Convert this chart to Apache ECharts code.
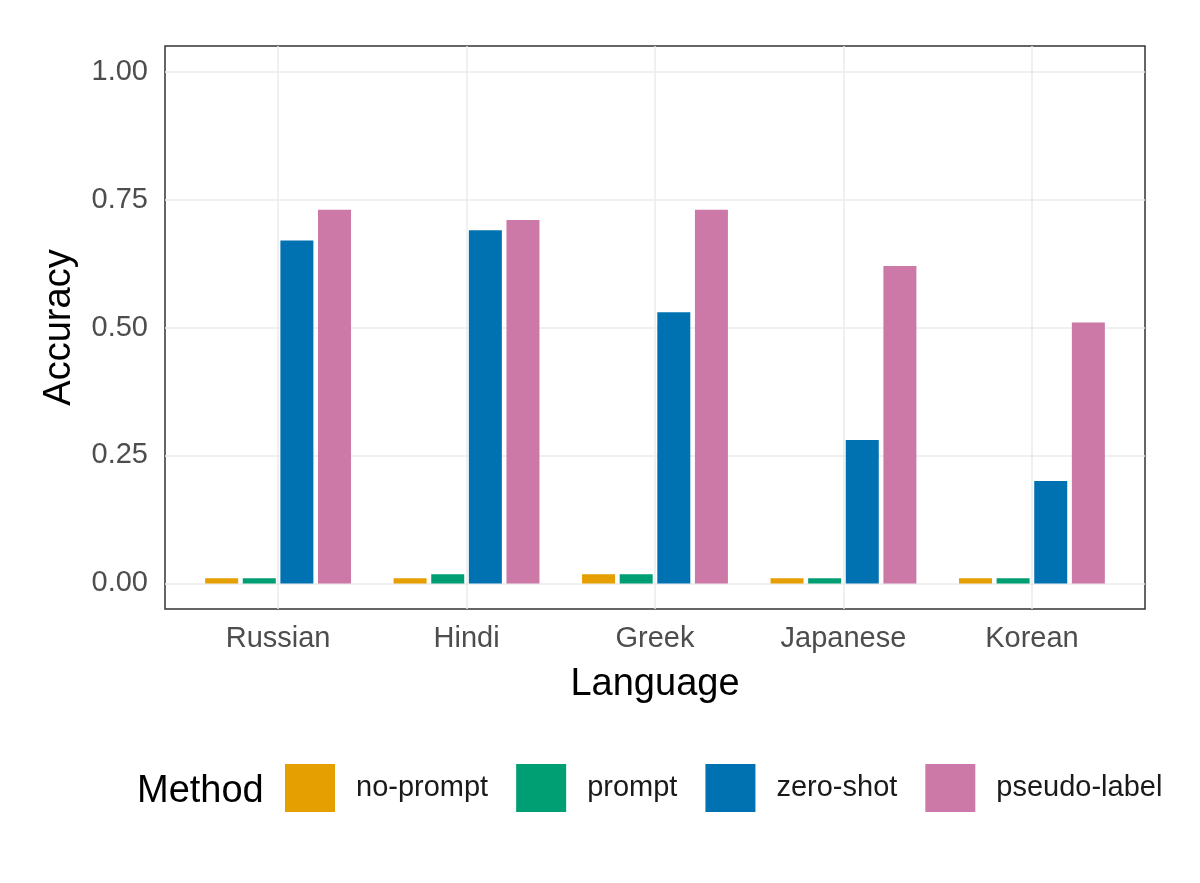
<!DOCTYPE html>
<html>
<head>
<meta charset="utf-8">
<script src="https://cdn.jsdelivr.net/npm/echarts@6/dist/echarts.min.js"></script>
<style>
html,body{margin:0;padding:0;background:#fff;}
#chart{width:1200px;height:883px;}
</style>
</head>
<body>
<div id="chart"></div>
<script>
const categories = ['Russian', 'Hindi', 'Greek', 'Japanese', 'Korean'];
const methods = ['no-prompt', 'prompt', 'zero-shot', 'pseudo-label'];
const noPrompt = [0.01, 0.01, 0.018, 0.01, 0.01];
const promptVals = [0.01, 0.018, 0.018, 0.01, 0.01];
const zeroShot = [0.67, 0.69, 0.53, 0.28, 0.20];
const pseudoLabel = [0.73, 0.71, 0.73, 0.62, 0.51];
const yTicks = [0, 0.25, 0.5, 0.75, 1];
const colors = ['#E69F00', '#009E73', '#0072B2', '#CC79A7'];

const seriesValues = [noPrompt, promptVals, zeroShot, pseudoLabel];
const xTicks = categories.map((c, i) => i);
const FONT = "'Liberation Sans', Arial, Helvetica, sans-serif";

const chart = echarts.init(document.getElementById('chart'), null, {renderer: 'canvas'});
const option = {
  backgroundColor: '#ffffff',
  animation: false,
  grid: {
    left: 165, right: 55, top: 46, bottom: 274,
    show: true, borderColor: '#333333', borderWidth: 1.5, backgroundColor: 'transparent'
  },
  xAxis: {
    type: 'value',
    min: -0.6, max: 4.6,
    name: 'Language',
    nameLocation: 'middle',
    nameGap: 57,
    nameTextStyle: {fontSize: 38, color: '#000', fontFamily: FONT},
    axisLine: {show: false},
    axisTick: {show: false, customValues: xTicks},
    axisLabel: {
      customValues: xTicks,
      margin: 15,
      fontSize: 29,
      color: '#4d4d4d',
      fontFamily: FONT,
      formatter: v => categories[Math.round(v)]
    },
    splitLine: {show: true, lineStyle: {color: '#ebebeb', width: 1.5}}
  },
  yAxis: {
    type: 'value',
    min: -0.05, max: 1.05,
    name: 'Accuracy',
    nameLocation: 'middle',
    nameRotate: 90,
    nameGap: 86,
    nameTextStyle: {fontSize: 38, color: '#000', fontFamily: FONT},
    axisLine: {show: false},
    axisTick: {show: false, customValues: yTicks},
    axisLabel: {
      customValues: yTicks,
      margin: 17,
      fontSize: 29,
      color: '#4d4d4d',
      fontFamily: FONT,
      formatter: v => v.toFixed(2)
    },
    splitLine: {show: true, lineStyle: {color: '#ebebeb', width: 1.5}}
  },
  legend: {
    left: 285,
    top: 764,
    padding: 0,
    itemWidth: 50,
    itemHeight: 48,
    itemGap: 28,
    icon: 'rect',
    data: methods,
    textStyle: {fontSize: 29, color: '#1a1a1a', fontFamily: FONT, padding: [0, 0, 0, 16]},
    itemStyle: {borderWidth: 0}
  },
  graphic: [{
    type: 'text',
    left: 137,
    top: 773,
    style: {text: 'Method', fontSize: 38, fill: '#000', font: "38px 'Liberation Sans', Arial, sans-serif"}
  }],
  series: methods.map((m, k) => ({
    name: m,
    type: 'bar',
    barWidth: 33,
    barGap: '14%',
    itemStyle: {color: colors[k]},
    data: seriesValues[k].map((v, i) => [i, v])
  }))
};
chart.setOption(option);
</script>
</body>
</html>
